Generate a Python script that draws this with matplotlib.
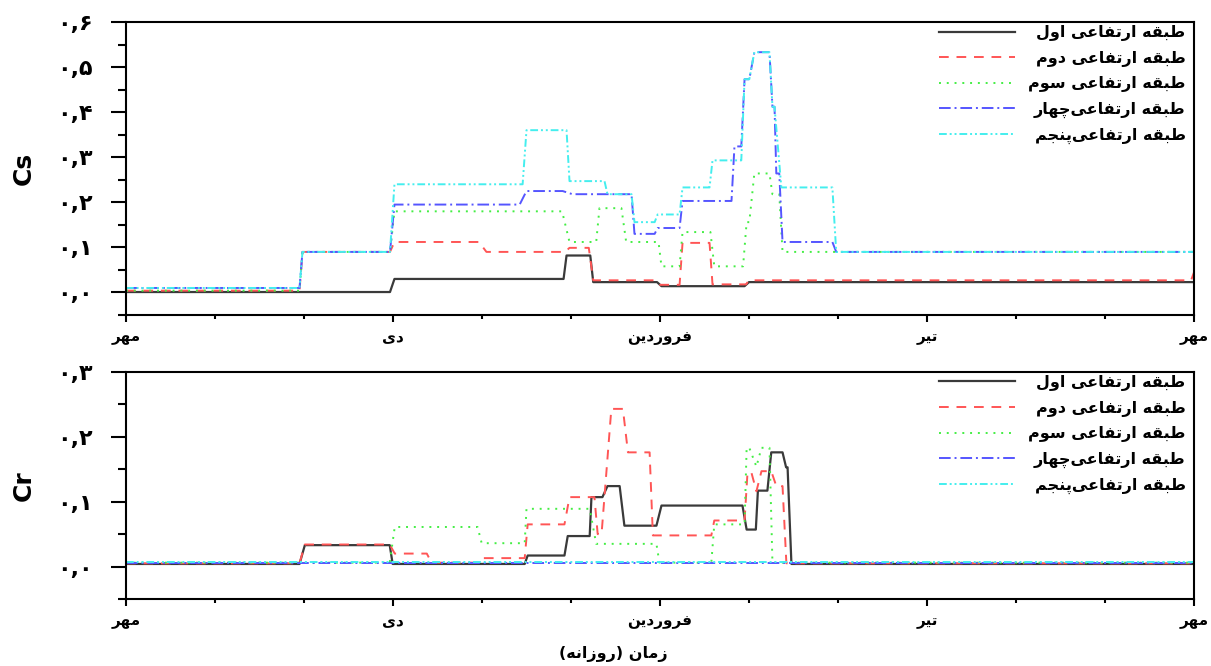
import numpy as np
import matplotlib
matplotlib.use("Agg")
import matplotlib.pyplot as plt
from matplotlib.ticker import MultipleLocator, FixedLocator, FuncFormatter

## Persian text: matplotlib has no shaping, so map letters to presentation forms and reverse
## (iso, final, initial, medial) - None means the letter does not join to the next one
FORMS = {
    '\u0627': (0xFE8D, 0xFE8E, None, None),      # alef
    '\u0628': (0xFE8F, 0xFE90, 0xFE91, 0xFE92),  # be
    '\u067E': (0xFB56, 0xFB57, 0xFB58, 0xFB59),  # pe
    '\u062A': (0xFE95, 0xFE96, 0xFE97, 0xFE98),  # te
    '\u062C': (0xFE9D, 0xFE9E, 0xFE9F, 0xFEA0),  # jim
    '\u0686': (0xFB7A, 0xFB7B, 0xFB7C, 0xFB7D),  # che
    '\u062F': (0xFEA9, 0xFEAA, None, None),      # dal
    '\u0631': (0xFEAD, 0xFEAE, None, None),      # re
    '\u0632': (0xFEAF, 0xFEB0, None, None),      # ze
    '\u0633': (0xFEB1, 0xFEB2, 0xFEB3, 0xFEB4),  # sin
    '\u0637': (0xFEC1, 0xFEC2, 0xFEC3, 0xFEC4),  # ta
    '\u0639': (0xFEC9, 0xFECA, 0xFECB, 0xFECC),  # ein
    '\u0641': (0xFED1, 0xFED2, 0xFED3, 0xFED4),  # fe
    '\u0642': (0xFED5, 0xFED6, 0xFED7, 0xFED8),  # ghaf
    '\u0644': (0xFEDD, 0xFEDE, 0xFEDF, 0xFEE0),  # lam
    '\u0645': (0xFEE1, 0xFEE2, 0xFEE3, 0xFEE4),  # mim
    '\u0646': (0xFEE5, 0xFEE6, 0xFEE7, 0xFEE8),  # nun
    '\u0647': (0xFEE9, 0xFEEA, 0xFEEB, 0xFEEC),  # he
    '\u0648': (0xFEED, 0xFEEE, None, None),      # vav
    '\u06CC': (0xFBFC, 0xFBFD, 0xFBFE, 0xFBFF),  # ye
}

def fa(text):
    chars = list(text)
    out = []
    for i, c in enumerate(chars):
        if c not in FORMS:
            out.append(c)
            continue
        prev = chars[i - 1] if i > 0 else ''
        nxt = chars[i + 1] if i + 1 < len(chars) else ''
        join_prev = prev in FORMS and FORMS[prev][2] is not None
        join_next = nxt in FORMS and FORMS[c][2] is not None
        f = FORMS[c]
        if join_prev and join_next:
            g = f[3]
        elif join_prev:
            g = f[1]
        elif join_next:
            g = f[2]
        else:
            g = f[0]
        out.append(chr(g))
    out = [c for c in out if c != '\u200c']
    mirror = {'(': ')', ')': '('}
    return ''.join(mirror.get(c, c) for c in reversed(out))

def fa_num(v):
    s = "%.1f" % v
    s = s.replace('.', ',').replace('-', '')
    return ''.join(chr(0x06F0 + int(c)) if c.isdigit() else c for c in s)

## Data (days from start of Mehr)
month_ticks = [0, 90, 180, 270, 360]
month_labels = ['مهر', 'دی', 'فروردین', 'تیر', 'مهر']
series_names = ['طبقه ارتفاعی اول', 'طبقه ارتفاعی دوم', 'طبقه ارتفاعی سوم',
                'طبقه ارتفاعی\u200cچهار', 'طبقه ارتفاعی\u200cپنجم']

# Cs
cs1_x = [0, 89, 90.5, 147.5, 148.5, 156.5, 157.5, 179, 180.5, 208.5, 210, 360]
cs1_y = [0.001, 0.001, 0.030, 0.030, 0.082, 0.082, 0.023, 0.023, 0.014, 0.014, 0.023, 0.023]

cs2_x = [0, 58.5, 59.5, 89, 90.5, 119, 121.5, 148, 149.5, 156, 157.5, 178.5, 180,
         186.6, 187.6, 196.7, 197.7, 209, 210, 359, 360]
cs2_y = [0.004, 0.004, 0.090, 0.090, 0.112, 0.112, 0.090, 0.090, 0.099, 0.099, 0.027, 0.027, 0.017,
         0.017, 0.110, 0.110, 0.018, 0.018, 0.027, 0.027, 0.045]

cs3_x = [0, 58.5, 59.5, 89, 90.5, 147, 149.5, 158.5, 159.6, 167, 168.6, 179.5, 180.5,
         186.6, 187.6, 197, 198.3, 208, 209.2, 210.1, 211.8, 216.9, 217.9, 220.2, 221.3, 360]
cs3_y = [0.004, 0.004, 0.090, 0.090, 0.180, 0.180, 0.112, 0.112, 0.187, 0.187, 0.112, 0.112, 0.058,
         0.058, 0.134, 0.134, 0.058, 0.058, 0.156, 0.156, 0.264, 0.264, 0.218, 0.218, 0.090, 0.090]

cs4_x = [0, 58.5, 59.5, 89, 90.5, 132.7, 135, 147.2, 150.5, 170.4, 171.4, 178.2, 179.2,
         186.6, 187.6, 204.1, 205.1, 207.4, 208.5, 210.1, 211.8, 216.9, 217.9, 218.6, 219.2,
         220.2, 221.3, 238.1, 239.4, 360]
cs4_y = [0.010, 0.010, 0.090, 0.090, 0.195, 0.195, 0.225, 0.225, 0.218, 0.218, 0.130, 0.130, 0.143,
         0.143, 0.203, 0.203, 0.324, 0.324, 0.473, 0.473, 0.533, 0.533, 0.412, 0.412, 0.264,
         0.264, 0.112, 0.112, 0.090, 0.090]

cs5_x = [0, 58.5, 59.5, 89, 90.5, 133.7, 135, 148.5, 149.5, 161.3, 162.3, 170.4, 171.4,
         178.2, 179.2, 186.6, 187.6, 196.7, 197.7, 207.4, 208.5, 210.1, 211.8, 216.9, 217.9,
         218.6, 220.9, 238.1, 239.4, 360]
cs5_y = [0.010, 0.010, 0.090, 0.090, 0.240, 0.240, 0.360, 0.360, 0.247, 0.247, 0.218, 0.218, 0.156,
         0.156, 0.173, 0.173, 0.233, 0.233, 0.293, 0.293, 0.473, 0.473, 0.533, 0.533, 0.412,
         0.412, 0.233, 0.233, 0.090, 0.090]

# Cr
cr1_x = [0, 58.5, 60.3, 88.9, 89.9, 134.4, 135.4, 147.8, 148.9, 156.3, 156.9, 160.6, 162.3,
         166.4, 168, 178.8, 180.5, 207.8, 209.2, 212.3, 213, 216.2, 217.5, 221.3, 222.5, 223,
         224.3, 360]
cr1_y = [0.004, 0.004, 0.033, 0.033, 0.004, 0.004, 0.017, 0.017, 0.047, 0.047, 0.107, 0.107, 0.124,
         0.124, 0.063, 0.063, 0.094, 0.094, 0.057, 0.057, 0.117, 0.117, 0.176, 0.176, 0.153, 0.153,
         0.004, 0.004]

cr2_x = [0, 58.5, 60.3, 88.9, 90.6, 101.4, 103, 118.5, 119.9, 134.4, 135.4, 147.8, 149.5,
         157.9, 159, 160.3, 163.6, 167.5, 169.2, 176.5, 177.6, 197.3, 198.3, 208.5, 209.5,
         210.8, 212.5, 214.2, 217.5, 219.2, 221.3, 222.6, 360]
cr2_y = [0.005, 0.005, 0.034, 0.034, 0.020, 0.020, 0.006, 0.006, 0.013, 0.013, 0.065, 0.065, 0.107,
         0.107, 0.050, 0.050, 0.243, 0.243, 0.176, 0.176, 0.048, 0.048, 0.071, 0.071, 0.145,
         0.145, 0.116, 0.147, 0.147, 0.124, 0.124, 0.005, 0.005]

cr3_x = [0, 88.9, 90.6, 118.5, 119.9, 134.4, 135, 156.3, 158.5, 178.8, 179.8, 197.3, 198.3,
         208.5, 209.2, 210.1, 212.5, 214.2, 216.9, 217.9, 360]
cr3_y = [0.006, 0.006, 0.061, 0.061, 0.036, 0.036, 0.089, 0.089, 0.035, 0.035, 0.006, 0.006, 0.065,
         0.065, 0.183, 0.183, 0.154, 0.183, 0.183, 0.006, 0.006]

cr4_x = [0, 360]
cr4_y = [0.006, 0.006]
cr5_x = [0, 360]
cr5_y = [0.007, 0.007]

colors = ['#3a3a3a', '#ff5555', '#44ee44', '#5555ff', '#44eeee']
styles = ['-', (0, (5, 4)), (0, (1, 3)), (0, (6, 2, 1, 2)), (0, (4, 1.5, 1, 1.5, 1, 1.5))]
widths = [1.6, 1.4, 1.4, 1.4, 1.4]

cs_data = [(cs1_x, cs1_y), (cs2_x, cs2_y), (cs3_x, cs3_y), (cs4_x, cs4_y), (cs5_x, cs5_y)]
cr_data = [(cr1_x, cr1_y), (cr2_x, cr2_y), (cr3_x, cr3_y), (cr4_x, cr4_y), (cr5_x, cr5_y)]

fig = plt.figure(figsize=(12.11, 6.66), dpi=100)
ax1 = fig.add_axes([0.104, 0.527, 0.882, 0.440])
ax2 = fig.add_axes([0.104, 0.1006, 0.882, 0.341])

def style_axes(ax, data, ymax, ylabel, spacing):
    for i, (x, y) in enumerate(data):
        ax.plot(x, y, color=colors[i], linestyle=styles[i], lw=widths[i], label=fa(series_names[i]))
    ax.set_xlim(0, 360)
    ax.set_ylim(-0.05, ymax)
    ax.xaxis.set_major_locator(FixedLocator(month_ticks))
    ax.set_xticklabels([fa(m) for m in month_labels], fontweight='bold', fontsize=11)
    ax.xaxis.set_minor_locator(MultipleLocator(30))
    ax.yaxis.set_major_locator(MultipleLocator(0.1))
    ax.yaxis.set_minor_locator(MultipleLocator(0.05))
    ax.yaxis.set_major_formatter(FuncFormatter(lambda v, p: fa_num(v)))
    for lab in ax.get_yticklabels():
        lab.set_fontweight('bold')
    ax.tick_params(axis='y', which='major', length=11, width=1.5, labelsize=16, pad=13)
    ax.tick_params(axis='y', which='minor', length=5.5, width=1.5)
    ax.tick_params(axis='x', which='major', length=5, width=1.5, pad=6)
    ax.tick_params(axis='x', which='minor', length=3, width=1.5)
    for sp in ax.spines.values():
        sp.set_linewidth(1.5)
    ax.set_ylabel(ylabel, fontsize=18, fontweight='bold')
    ax.yaxis.set_label_coords(-0.084, 0.5)
    leg = ax.legend(loc='upper right', frameon=False, handlelength=4.8,
                    labelspacing=spacing, borderaxespad=0.1, borderpad=0.1,
                    bbox_to_anchor=(0.995, 1.0),
                    prop={'weight': 'bold', 'size': 11.5})
    return leg

leg1 = style_axes(ax1, cs_data, 0.6, 'Cs', 0.6)
leg2 = style_axes(ax2, cr_data, 0.3, 'Cr', 0.6)
ax2.set_xlabel(fa('زمان (روزانه)'), fontsize=11.5, fontweight='bold')
ax2.xaxis.set_label_coords(0.456, -0.205)

# right-align the legend texts (RTL labels): push shorter ones right
renderer = fig.canvas.get_renderer()
for leg in [leg1, leg2]:
    widths_px = [t.get_window_extent(renderer).width for t in leg.get_texts()]
    maxw = max(widths_px)
    for t, w in zip(leg.get_texts(), widths_px):
        t.set_position((maxw - w, 0))

plt.savefig('out.png', dpi=100)
